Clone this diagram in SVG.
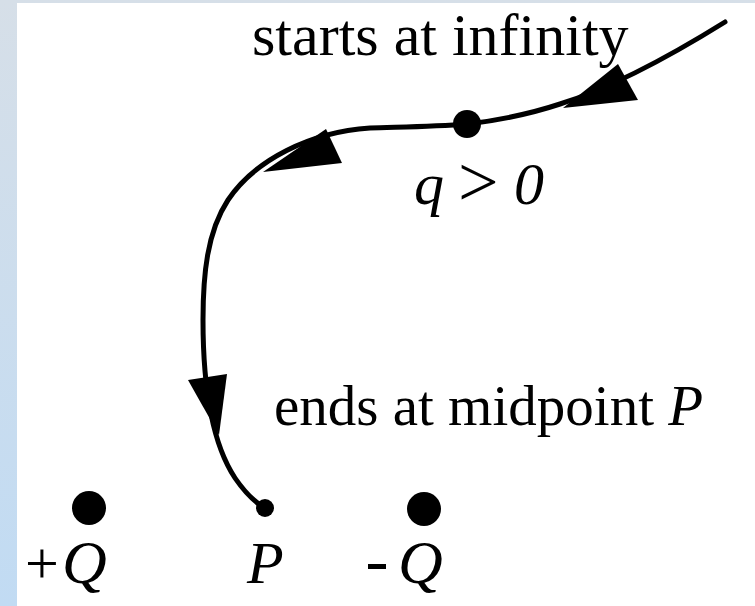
<svg xmlns="http://www.w3.org/2000/svg" width="755" height="606" viewBox="0 0 755 606">
<defs>
<linearGradient id="bg" x1="0" y1="0" x2="0" y2="1">
<stop offset="0" stop-color="#d6dfe8"/>
<stop offset="1" stop-color="#c1dbf3"/>
</linearGradient>
<style>
.t{font-family:"Liberation Serif","Times New Roman",serif;fill:#000}
.i{font-style:italic}
.curve{fill:none;stroke:#000;stroke-width:5;stroke-linecap:round;stroke-linejoin:round}
.arr{fill:#000}
.dot{fill:#000}
</style>
</defs>
<rect x="0" y="0" width="755" height="606" fill="url(#bg)"/>
<rect x="17" y="3" width="738" height="603" fill="#fff"/>

<g id="connectors">
<path class="curve" d="M725,22 C680,50 620,85 560,104 C530,114 500,120 468,124 C430,127 395,127 370,128 C310,132 255,160 228,200 C207,232 203,275 203,320 C203,380 210,440 235,478 C246,494 256,503 265,508"/>
<polygon class="arr" points="563,108 618,64 638,100"/>
<polygon class="arr" points="263,172 326,129 342,163"/>
<polygon class="arr" points="219,435 188,380 227,374"/>
</g>

<g id="node-q">
<circle class="dot" cx="467" cy="124" r="14"/>
<text class="t i" font-size="60" x="414" y="204">q</text>
<text class="t" font-size="72" x="458" y="206">&gt;</text>
<text class="t i" font-size="60" x="514" y="204">0</text>
</g>

<g id="label-start">
<text class="t" font-size="60" x="252" y="55">starts at infinity</text>
</g>

<g id="label-end">
<text class="t" font-size="57" x="274" y="425">ends at midpoint <tspan class="i">P</tspan></text>
</g>

<g id="node-plusQ">
<circle class="dot" cx="89" cy="508" r="17"/>
<text class="t" font-size="60" x="25" y="583">+</text>
<text class="t i" font-size="62" x="62" y="583">Q</text>
</g>

<g id="node-P">
<circle class="dot" cx="265" cy="508" r="9"/>
<text class="t i" font-size="60" x="247" y="583">P</text>
</g>

<g id="node-minusQ">
<circle class="dot" cx="424" cy="509" r="17"/>
<rect x="368" y="564" width="18" height="5" fill="#000"/>
<text class="t i" font-size="62" x="398" y="583">Q</text>
</g>
</svg>
